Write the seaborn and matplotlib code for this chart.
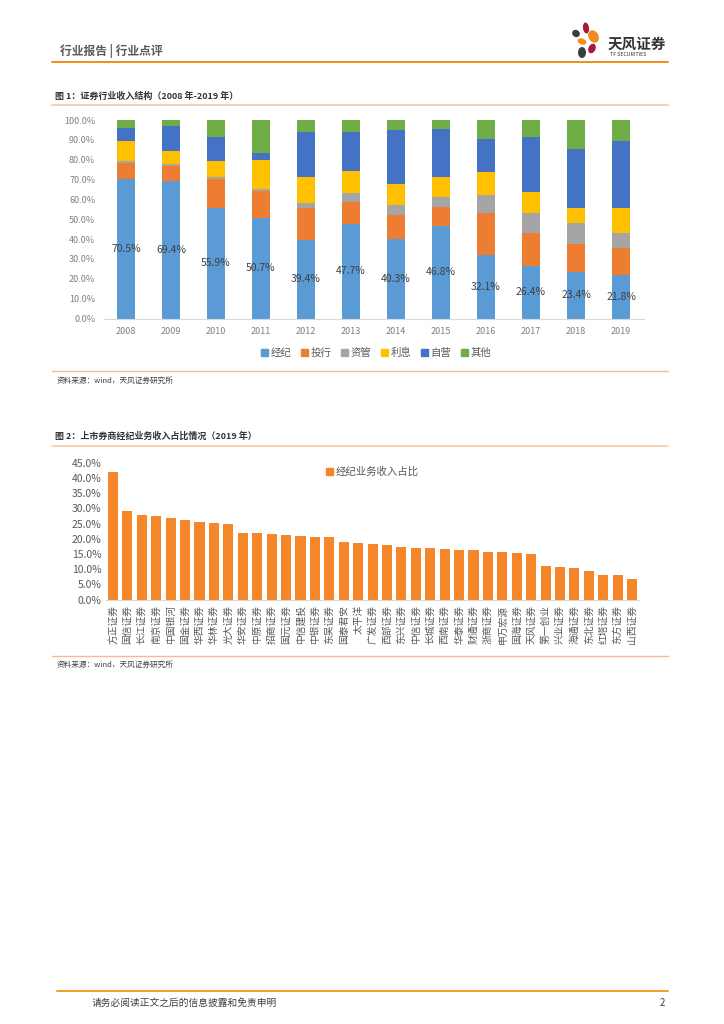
import matplotlib
matplotlib.use("Agg")
import matplotlib.pyplot as plt
import numpy as np
import pandas as pd
import seaborn as sns
from matplotlib.patches import Patch, Ellipse
from matplotlib.ticker import FuncFormatter

# ---- figure 1 data: 证券行业收入结构 (%)
years = [str(y) for y in range(2008, 2020)]
seg_names = ["经纪", "投行", "资管", "利息", "自营", "其他"]
brokerage = [70.5, 69.4, 55.9, 50.7, 39.4, 47.7, 40.3, 46.8, 32.1, 26.4, 23.4, 21.8]
ib        = [7.7, 7.3, 14.3, 13.3, 16.5, 10.8, 12.0, 9.3, 20.8, 16.5, 14.1, 13.5]
asset_mgmt = [0.9, 0.9, 1.0, 1.3, 2.1, 4.6, 4.7, 4.9, 9.1, 10.0, 10.4, 7.7]
interest  = [10.5, 6.8, 8.0, 14.3, 13.5, 11.3, 10.8, 10.2, 11.7, 10.9, 7.9, 12.8]
prop      = [6.2, 12.6, 12.4, 3.8, 22.6, 19.6, 27.2, 24.3, 16.9, 27.7, 29.8, 33.6]
others    = [4.2, 3.0, 8.4, 16.6, 5.9, 6.0, 5.0, 4.5, 9.4, 8.5, 14.4, 10.6]
seg_colors = ["#5B9BD5", "#ED7D31", "#A5A5A5", "#FFC000", "#4472C4", "#70AD47"]

# ---- figure 2 data: 上市券商经纪业务收入占比 (2019, %)
brokers = ["方正证券", "国信证券", "长江证券", "南京证券", "中国银河", "国金证券", "华西证券",
           "华林证券", "光大证券", "华安证券", "中原证券", "招商证券", "国元证券", "中信建投",
           "中银证券", "东吴证券", "国泰君安", "太平洋", "广发证券", "西部证券", "东兴证券",
           "中信证券", "长城证券", "西南证券", "华泰证券", "财通证券", "浙商证券", "申万宏源",
           "国海证券", "天风证券", "第一创业", "兴业证券", "海通证券", "东北证券", "红塔证券",
           "东方证券", "山西证券"]
broker_share = [42.0, 29.2, 27.8, 27.5, 26.9, 26.3, 25.6, 25.3, 25.0, 21.9, 21.8, 21.5, 21.2,
                20.8, 20.7, 20.6, 18.8, 18.6, 18.4, 17.9, 17.4, 17.1, 17.0, 16.6, 16.4, 16.3,
                15.8, 15.5, 15.3, 14.9, 11.1, 10.8, 10.3, 9.3, 8.2, 8.2, 6.6]

sns.set_style("white")
plt.rcParams["font.family"] = ["Noto Sans CJK SC", "DejaVu Sans"]

W, H = 724, 1024
fig = plt.figure(figsize=(W / 100, H / 100), dpi=100)


def px_axes(left, top, width, height):
    return fig.add_axes([left / W, 1 - (top + height) / H, width / W, height / H])


# background layer in pixel coords
bg = fig.add_axes([0, 0, 1, 1], zorder=-1)
bg.set_xlim(0, W)
bg.set_ylim(H, 0)
bg.axis("off")

bg.text(60, 51, "行业报告 | 行业点评", fontsize=8.5, color="#595959", va="center", fontweight="bold")
bg.plot([52, 668], [61.5, 61.5], color="#F08C1E", lw=1.4)

# logo petals
for (cx, cy, w_, h_, ang, col) in [
    (586, 28, 6, 11, -8, "#A8183C"), (576, 33.5, 8, 7, 35, "#3D3D3D"),
    (593.5, 36.5, 10, 13, -30, "#F08C1E"), (582, 41.5, 9, 6, 20, "#F08C1E"),
    (592, 48.5, 7, 10, 25, "#A8183C"), (582, 52.5, 8, 11, 0, "#3D3D3D")]:
    bg.add_patch(Ellipse((cx, cy), w_, h_, angle=ang, color=col, lw=0))
bg.text(608, 44, "天风证券", fontsize=10.5, color="#333333", va="center", fontweight="bold")
bg.text(610, 55, "TF SECURITIES", fontsize=3.8, color="#333333", va="center")

bg.text(55, 96, "图 1：证券行业收入结构（2008 年-2019 年）", fontsize=6.5, color="#333333",
        va="center", fontweight="bold")
bg.plot([52, 668], [104.5, 104.5], color="#FBC8A0", lw=1.2)
bg.plot([52, 668], [370.5, 370.5], color="#F9B98A", lw=1.0)
bg.text(57, 381, "资料来源：wind，天风证券研究所", fontsize=5.5, color="#404040", va="center")

bg.text(55, 436, "图 2：上市券商经纪业务收入占比情况（2019 年）", fontsize=6.5, color="#333333",
        va="center", fontweight="bold")
bg.plot([52, 668], [445.5, 445.5], color="#FBC8A0", lw=1.2)
bg.plot([52, 668], [655.5, 655.5], color="#F9B98A", lw=1.0)
bg.text(57, 665, "资料来源：wind，天风证券研究所", fontsize=5.5, color="#404040", va="center")

bg.plot([57, 668], [990.5, 990.5], color="#F0A030", lw=1.4)
bg.text(92, 1003, "请务必阅读正文之后的信息披露和免责申明", fontsize=7, color="#404040", va="center")
bg.text(665, 1003, "2", fontsize=7, color="#404040", va="center", ha="right")

# ---- chart 1: stacked bars (draw cumulative totals, largest first)
ax1 = px_axes(103.5, 120, 540, 198.5)
layers = [brokerage, ib, asset_mgmt, interest, prop, others]
cum = np.cumsum(np.array(layers), axis=0)
for k in range(len(layers) - 1, -1, -1):
    df = pd.DataFrame({"year": years, "val": cum[k]})
    sns.barplot(data=df, x="year", y="val", color=seg_colors[k], saturation=1,
                width=0.41, linewidth=0, ax=ax1)
for i, v in enumerate(brokerage):
    ax1.text(i, v / 2, f"{v:.1f}%", ha="center", va="center", fontsize=7.5, color="#404040")
ax1.set_ylim(0, 100)
ax1.set_xlim(-0.5, 11.5)
ax1.set_yticks(np.arange(0, 101, 10))
ax1.yaxis.set_major_formatter(FuncFormatter(lambda v, _: f"{v:.1f}%"))
ax1.set_xlabel("")
ax1.set_ylabel("")
ax1.tick_params(axis="both", labelsize=6.5, labelcolor="#7F7F7F", length=0, pad=6)
for s in ["top", "right", "left"]:
    ax1.spines[s].set_visible(False)
ax1.spines["bottom"].set_color("#D9D9D9")
handles = [Patch(color=c, label=n) for c, n in zip(seg_colors, seg_names)]
ax1.legend(handles=handles, loc="center", bbox_to_anchor=(0.505, -0.175), ncol=6,
           frameon=False, fontsize=7.5, handlelength=0.6, handleheight=0.6,
           handletextpad=0.25, columnspacing=1.0, labelcolor="#595959")

# ---- chart 2: brokerage share
ax2 = px_axes(105.8, 463, 533.5, 136.5)
df2 = pd.DataFrame({"broker": brokers, "share": broker_share})
sns.barplot(data=df2, x="broker", y="share", color="#F5862A", saturation=1,
            width=0.7, linewidth=0, ax=ax2)
ax2.set_ylim(0, 45)
ax2.set_xlim(-0.5, len(brokers) - 0.5)
ax2.set_yticks(np.arange(0, 46, 5))
ax2.yaxis.set_major_formatter(FuncFormatter(lambda v, _: f"{v:.1f}%"))
ax2.set_xlabel("")
ax2.set_ylabel("")
ax2.tick_params(axis="y", labelsize=7.5, labelcolor="#595959", length=0, pad=3)
ax2.tick_params(axis="x", labelsize=7, labelcolor="#595959", length=0, pad=4, rotation=90)
for s in ["top", "right", "left"]:
    ax2.spines[s].set_visible(False)
ax2.spines["bottom"].set_color("#D9D9D9")
ax2.legend(handles=[Patch(color="#F5862A", label="经纪业务收入占比")], loc="upper center",
           bbox_to_anchor=(0.5, 1.04), frameon=False, fontsize=7.5, handlelength=0.6,
           handleheight=0.6, handletextpad=0.3, labelcolor="#595959")

fig.savefig("out.png", dpi=100)
